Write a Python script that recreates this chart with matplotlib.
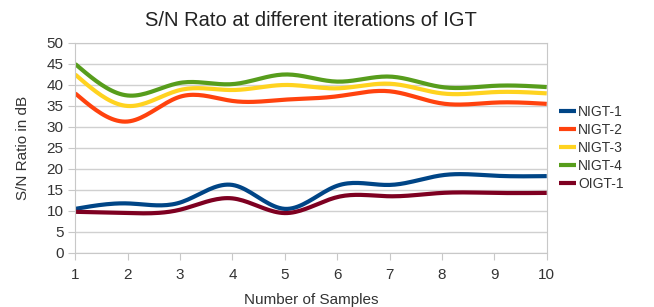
import numpy as np
import matplotlib.pyplot as plt

plt.rcParams['font.family'] = ['Liberation Sans', 'DejaVu Sans']

samples = [1, 2, 3, 4, 5, 6, 7, 8, 9, 10]
nigt1 = [10.5, 11.8, 12.0, 16.2, 10.5, 16.0, 16.2, 18.5, 18.4, 18.3]
nigt2 = [38.0, 31.3, 37.2, 36.2, 36.5, 37.3, 38.5, 35.6, 35.8, 35.5]
nigt3 = [42.5, 35.0, 38.8, 38.8, 40.0, 39.2, 40.3, 38.0, 38.3, 38.0]
nigt4 = [45.0, 37.5, 40.5, 40.2, 42.5, 40.8, 42.0, 39.5, 39.8, 39.5]
oigt1 = [9.8, 9.5, 10.3, 13.0, 9.5, 13.3, 13.5, 14.3, 14.3, 14.3]

names = ["NIGT-1", "NIGT-2", "NIGT-3", "NIGT-4", "OIGT-1"]
colors = ["#004586", "#ff420e", "#ffd320", "#579d1c", "#7e0021"]


def spline(x, y, n=20):
    # natural cubic spline, just for drawing the smooth line
    x = np.asarray(x, float)
    y = np.asarray(y, float)
    m = len(x)
    h = np.diff(x)
    A = np.zeros((m, m))
    b = np.zeros(m)
    A[0, 0] = A[-1, -1] = 1
    for i in range(1, m - 1):
        A[i, i - 1] = h[i - 1]
        A[i, i] = 2 * (h[i - 1] + h[i])
        A[i, i + 1] = h[i]
        b[i] = 6 * ((y[i + 1] - y[i]) / h[i] - (y[i] - y[i - 1]) / h[i - 1])
    M = np.linalg.solve(A, b)
    xs, ys = [], []
    for i in range(m - 1):
        t = np.linspace(x[i], x[i + 1], n, endpoint=False)
        a = x[i + 1] - t
        c = t - x[i]
        s = (M[i] * a**3 + M[i + 1] * c**3) / (6 * h[i]) \
            + (y[i] / h[i] - M[i] * h[i] / 6) * a \
            + (y[i + 1] / h[i] - M[i + 1] * h[i] / 6) * c
        xs.extend(t)
        ys.extend(s)
    xs.append(x[-1])
    ys.append(y[-1])
    return xs, ys


fig = plt.figure(figsize=(6.54, 3.07), dpi=100)
ax = fig.add_axes([0.115, 0.176, 0.721, 0.684])

for name, vals, col in zip(names, [nigt1, nigt2, nigt3, nigt4, oigt1], colors):
    sx, sy = spline(samples, vals)
    ax.plot(sx, sy, color=col, lw=3, label=name, solid_capstyle="butt")

ax.set_xlim(1, 10)
ax.set_ylim(0, 50)
ax.set_xticks(samples)
ax.set_yticks(range(0, 51, 5))
ax.grid(axis="y", color="#d0d0d0", lw=1)
ax.set_axisbelow(True)
for sp in ax.spines.values():
    sp.set_color("#c8c8c8")
ax.tick_params(colors="#c8c8c8", labelcolor="#333333", labelsize=11, length=5)
ax.tick_params(axis="x", pad=6)

ax.set_title("S/N Rato at different iterations of IGT", fontsize=14.5, color="#222222", pad=12)
ax.set_xlabel("Number of Samples", fontsize=11, color="#333333", labelpad=8)
ax.set_ylabel("S/N Ratio in dB", fontsize=11, color="#333333", labelpad=12)

leg = ax.legend(loc="center left", bbox_to_anchor=(1.0, 0.5), frameon=False,
                fontsize=10, handlelength=1.2, handletextpad=0.15, labelspacing=0.3)
for t in leg.get_texts():
    t.set_color("#333333")

fig.savefig("out.png", dpi=100)
